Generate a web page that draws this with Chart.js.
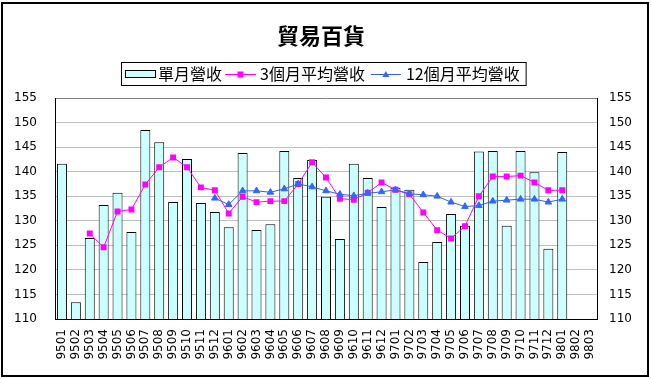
<!DOCTYPE html>
<html><head><meta charset="utf-8">
<script src="https://cdn.jsdelivr.net/npm/chart.js@4.4.1/dist/chart.umd.min.js"></script>
<style>html,body{margin:0;padding:0;background:#fff;overflow:hidden}</style>
</head><body>
<canvas id="c" width="651" height="379"></canvas>
<script>
const titleText = '貿易百貨';
const seriesNames = ['單月營收', '3個月平均營收', '12個月平均營收'];
const categories = ['9501','9502','9503','9504','9505','9506','9507','9508','9509','9510','9511','9512',
  '9601','9602','9603','9604','9605','9606','9607','9608','9609','9610','9611','9612',
  '9701','9702','9703','9704','9705','9706','9707','9708','9709','9710','9711','9712',
  '9801','9802','9803'];
const monthlyRevenue = [141.6,113.4,126.5,133.2,135.7,127.7,148.5,146.0,133.8,142.6,133.6,131.8,
  128.7,143.8,128.1,129.3,144.2,138.7,142.4,134.9,126.3,141.6,138.7,132.8,
  136.7,136.3,121.6,125.7,131.4,129.0,144.1,144.2,129.0,144.2,139.9,124.3,
  144.0,null,null];
const avg3Month = [null,null,127.4,124.6,131.9,132.3,137.4,140.9,142.9,140.9,136.8,136.2,
  131.5,134.9,133.8,134.0,134.0,137.5,141.9,138.8,134.5,134.3,135.7,137.8,
  136.3,135.4,131.7,128.1,126.4,128.9,135.0,139.0,139.0,139.2,137.8,136.2,
  136.2,null,null];
const avg12Month = [null,null,null,null,null,null,null,null,null,null,null,134.6,
  133.3,136.1,136.1,135.8,136.5,137.5,136.9,136.1,135.4,135.1,135.6,135.9,
  136.3,135.5,135.3,135.0,133.8,132.9,133.1,134.0,134.2,134.4,134.4,133.8,
  134.4,null,null];
const yTicks = [110,115,120,125,130,135,140,145,150,155];

const colBar = '#ccffff', colMag = '#ff00ff', colBlueLine = '#3366cc', colBluePt = '#3366ff';

const decor = {
  id: 'decor',
  beforeDraw(chart) {
    const ctx = chart.ctx;
    ctx.save(); ctx.fillStyle = '#fff'; ctx.fillRect(0, 0, chart.width, chart.height); ctx.restore();
  },
  afterDraw(chart) {
    const ctx = chart.ctx;
    ctx.save();
    // outer frame
    ctx.strokeStyle = '#000'; ctx.lineWidth = 2;
    ctx.strokeRect(2, 3, 646, 373);
    // title
    ctx.fillStyle = '#000';
    ctx.font = 'bold 22px "Noto Sans CJK TC"';
    ctx.textAlign = 'center'; ctx.textBaseline = 'middle';
    ctx.fillText(titleText, 321, 36);
    // legend
    ctx.font = '16px "Noto Sans CJK TC"';
    ctx.textAlign = 'left';
    const cy = 74;
    let x = 125;
    // swatch
    ctx.fillStyle = colBar; ctx.fillRect(x, 70.5, 30, 7);
    ctx.strokeStyle = '#000'; ctx.lineWidth = 1; ctx.strokeRect(x + 0.5, 70.5, 30, 7);
    x += 33;
    ctx.fillStyle = '#000'; ctx.fillText(seriesNames[0], x, cy);
    x += ctx.measureText(seriesNames[0]).width + 3;
    // magenta line
    ctx.strokeStyle = colMag; ctx.beginPath(); ctx.moveTo(x, cy + 0.5); ctx.lineTo(x + 31, cy + 0.5); ctx.stroke();
    ctx.fillStyle = colMag; ctx.fillRect(x + 15.5 - 3, cy + 0.5 - 3, 6, 6);
    x += 35;
    ctx.fillStyle = '#000'; ctx.fillText(seriesNames[1], x, cy);
    x += ctx.measureText(seriesNames[1]).width + 6;
    // blue line
    ctx.strokeStyle = colBlueLine; ctx.beginPath(); ctx.moveTo(x, cy + 0.5); ctx.lineTo(x + 30, cy + 0.5); ctx.stroke();
    ctx.fillStyle = colBluePt; ctx.beginPath();
    ctx.moveTo(x + 15, cy - 3); ctx.lineTo(x + 18.5, cy + 3); ctx.lineTo(x + 11.5, cy + 3); ctx.closePath(); ctx.fill();
    x += 35;
    ctx.fillStyle = '#000'; ctx.fillText(seriesNames[2], x, cy);
    x += ctx.measureText(seriesNames[2]).width + 6;
    // legend box
    ctx.strokeStyle = '#000'; ctx.lineWidth = 1;
    ctx.strokeRect(121.5, 62.5, x - 121, 23);
    ctx.restore();
  }
};

const tickFont = { family: 'DejaVu Sans', size: 12 };
const setTicks = s => { s.ticks = yTicks.map(v => ({ value: v })); };

new Chart(document.getElementById('c'), {
  type: 'bar',
  data: {
    labels: categories,
    datasets: [
      { type: 'line', label: seriesNames[2], data: avg12Month, order: 0,
        borderColor: colBlueLine, borderWidth: 1, backgroundColor: colBluePt,
        pointStyle: 'triangle', pointRadius: 3.8, pointBackgroundColor: colBluePt, pointBorderColor: colBluePt, pointBorderWidth: 1,
        tension: 0, spanGaps: false, yAxisID: 'y' },
      { type: 'line', label: seriesNames[1], data: avg3Month, order: 1,
        borderColor: colMag, borderWidth: 1, backgroundColor: colMag,
        pointStyle: 'rect', pointRadius: 4.2, pointBackgroundColor: colMag, pointBorderColor: colMag, pointBorderWidth: 0,
        tension: 0, spanGaps: false, yAxisID: 'y' },
      { type: 'bar', label: seriesNames[0], data: monthlyRevenue, order: 2,
        backgroundColor: colBar, borderColor: '#000', borderWidth: 1,
        barPercentage: 0.72, categoryPercentage: 1.0, yAxisID: 'y' }
    ]
  },
  options: {
    responsive: false, animation: false, devicePixelRatio: 1,
    layout: { padding: { top: 98, left: 0, right: 0, bottom: 0 } },
    plugins: { legend: { display: false }, title: { display: false }, tooltip: { enabled: false } },
    scales: {
      x: {
        offset: true,
        grid: { display: false, drawTicks: false },
        border: { display: true, color: '#000', width: 1 },
        ticks: { autoSkip: false, maxRotation: 90, minRotation: 90, padding: 10, color: '#000', font: tickFont },
        afterFit(s) { s.height = 60; }
      },
      y: {
        position: 'left', min: 110, max: 155,
        afterBuildTicks: setTicks,
        ticks: { padding: 18, color: '#000', font: tickFont },
        grid: { color: c => (c.tick && c.tick.value === 155) ? '#808080' : '#c0c0c0', drawTicks: false, lineWidth: 1 },
        border: { color: '#000', width: 1 },
        afterFit(s) { s.width = 55; }
      },
      y2: {
        position: 'right', min: 110, max: 155,
        afterBuildTicks: setTicks,
        ticks: { padding: 12, color: '#000', font: tickFont },
        grid: { drawOnChartArea: false, drawTicks: false },
        border: { color: '#000', width: 1 },
        afterFit(s) { s.width = 54; }
      }
    }
  },
  plugins: [decor]
});
</script>
</body></html>
